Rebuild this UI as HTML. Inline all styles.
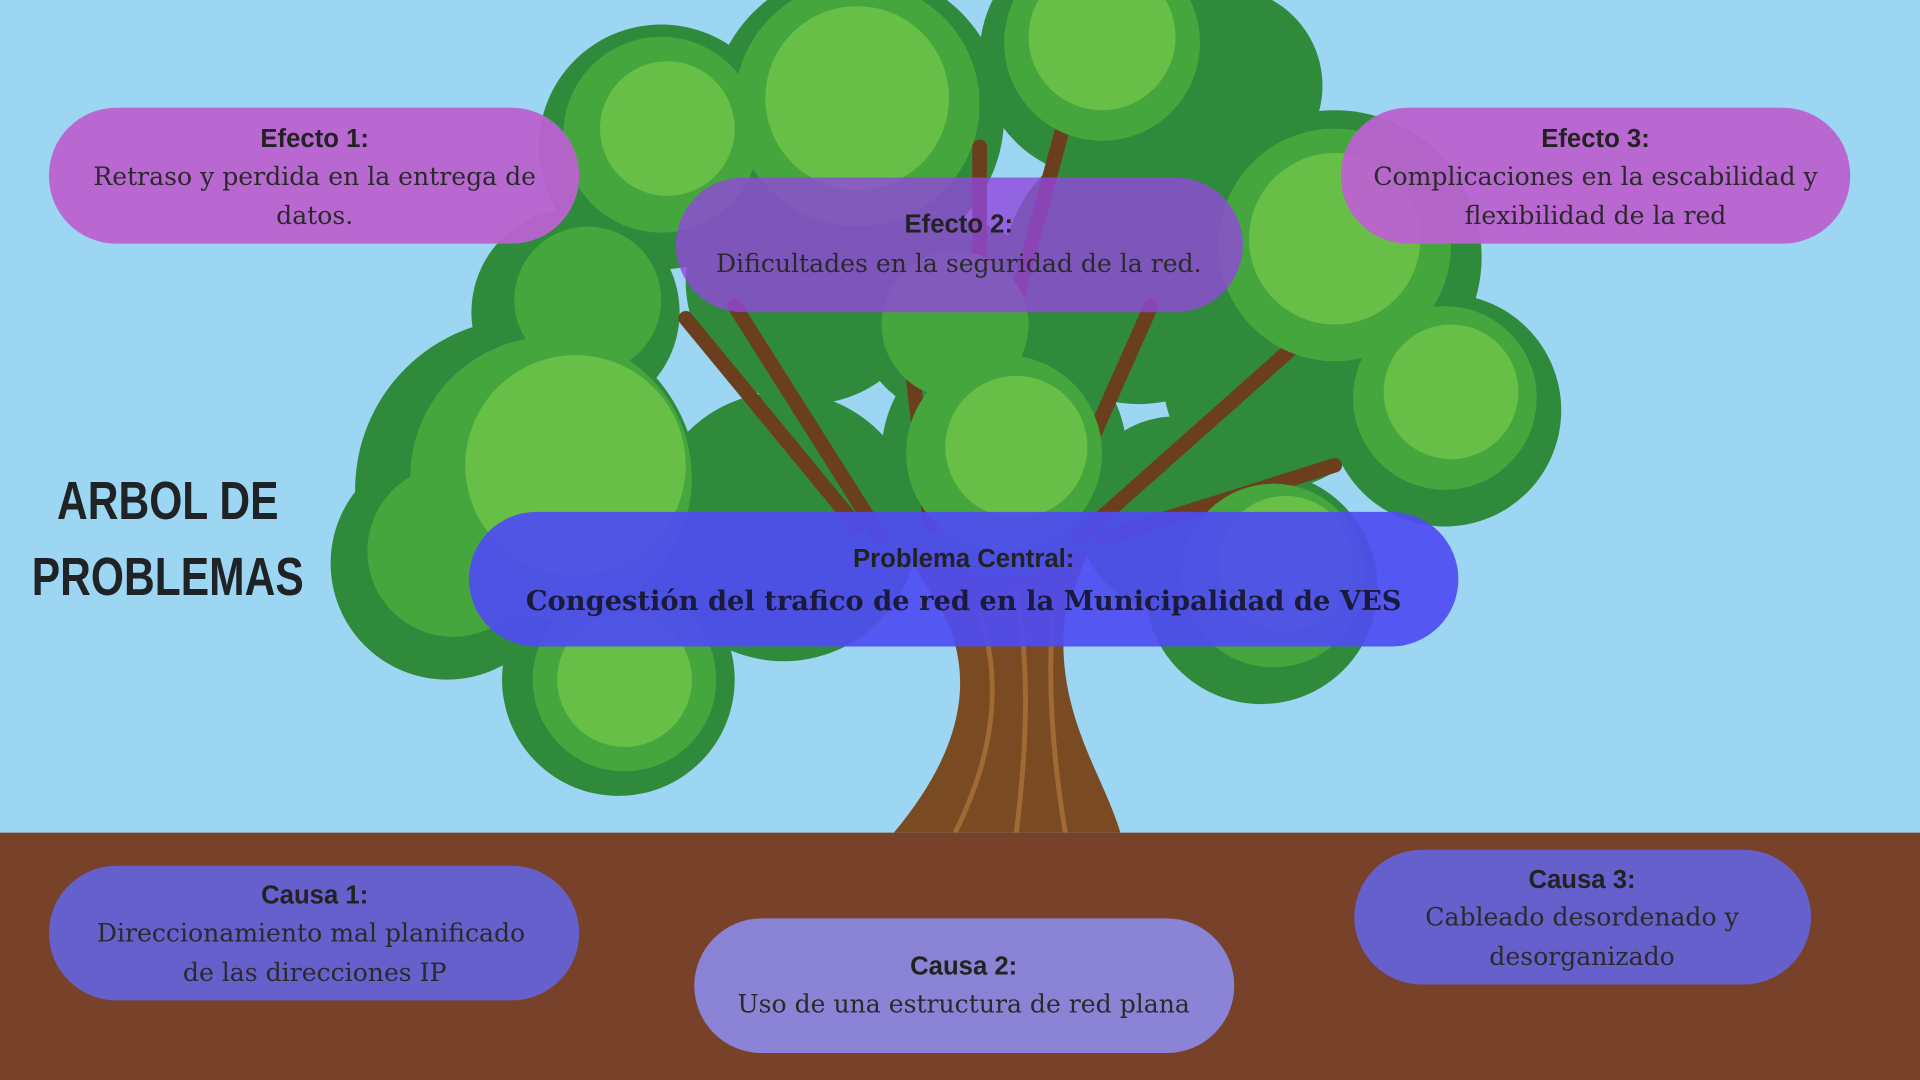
<!DOCTYPE html>
<html><head><meta charset="utf-8"><style>
html,body{margin:0;padding:0;width:1920px;height:1080px;overflow:hidden;background:#9dd6f2}
svg{display:block}
.h{font-family:"Liberation Sans","DejaVu Sans",sans-serif;font-weight:bold;font-size:21px;fill:#222}
.b{font-family:"DejaVu Serif","Liberation Serif",serif;font-size:20.5px;fill:#2a2a2a}
.t{font-family:"Liberation Sans",sans-serif;font-weight:bold;font-size:44px;fill:#1f2326}
</style></head><body>
<svg width="1920" height="1080" viewBox="0 0 1568 882" xmlns="http://www.w3.org/2000/svg">
<rect width="1568" height="882" fill="#9dd6f2"/>
<path d="M730 680 C780 620 800 560 770 500 L720 420 L900 420 L870 500 C860 580 900 630 915 680 Z" fill="#7a4a22"/>
<path d="M780 680 C810 620 820 560 800 500 M830 680 C840 600 840 540 830 480 M870 680 C860 620 855 560 860 500" stroke="#a06a35" stroke-width="4" fill="none"/>
<g fill="#2f8a3b">
<circle cx="900" cy="45" r="100"/><circle cx="700" cy="95" r="120"/><circle cx="540" cy="120" r="100"/><circle cx="1000" cy="70" r="80"/>
<circle cx="1090" cy="210" r="120"/><circle cx="1180" cy="335" r="95"/><circle cx="1040" cy="310" r="90"/>
<circle cx="470" cy="255" r="85"/><circle cx="430" cy="400" r="140"/><circle cx="365" cy="460" r="95"/><circle cx="505" cy="555" r="95"/>
<circle cx="820" cy="370" r="100"/><circle cx="780" cy="260" r="80"/><circle cx="1030" cy="480" r="95"/><circle cx="660" cy="230" r="100"/><circle cx="930" cy="220" r="110"/>
<circle cx="640" cy="430" r="110"/><circle cx="960" cy="420" r="80"/>
</g>
<g stroke="#6b3f1e" stroke-width="12" fill="none" stroke-linecap="round">
<path d="M720 440 L600 250"/><path d="M760 430 L740 260"/><path d="M780 430 L880 60"/><path d="M860 430 L940 250"/><path d="M880 440 L1060 280"/><path d="M900 440 L1090 380"/><path d="M700 430 L560 260"/><path d="M800 430 L800 120"/>
</g>
<g fill="#45a63e">
<circle cx="900" cy="35" r="80"/><circle cx="700" cy="85" r="100"/><circle cx="540" cy="110" r="80"/>
<circle cx="1090" cy="200" r="95"/><circle cx="1180" cy="325" r="75"/>
<circle cx="480" cy="245" r="60"/><circle cx="450" cy="390" r="115"/><circle cx="370" cy="450" r="70"/><circle cx="510" cy="555" r="75"/>
<circle cx="820" cy="370" r="80"/><circle cx="780" cy="265" r="60"/><circle cx="1040" cy="470" r="75"/>
</g>
<g fill="#68bf48">
<circle cx="900" cy="30" r="60"/><circle cx="700" cy="80" r="75"/><circle cx="545" cy="105" r="55"/>
<circle cx="1090" cy="195" r="70"/><circle cx="1185" cy="320" r="55"/>
<circle cx="470" cy="380" r="90"/><circle cx="510" cy="555" r="55"/><circle cx="830" cy="365" r="58"/><circle cx="1050" cy="460" r="55"/>
</g>
<rect x="0" y="680" width="1568" height="202" fill="#77412a"/>
<text class="t" x="137" y="424" text-anchor="middle" transform="translate(137 0) scale(0.79 1) translate(-137 0)">ARBOL DE</text>
<text class="t" x="137" y="486" text-anchor="middle" transform="translate(137 0) scale(0.79 1) translate(-137 0)">PROBLEMAS</text>
<rect x="40" y="88" width="433" height="111" rx="55" fill="#bb62d0" opacity="0.95"/>
<text class="h" x="257" y="120" text-anchor="middle">Efecto 1:</text>
<text class="b" x="257" y="151" text-anchor="middle">Retraso y perdida en la entrega de</text>
<text class="b" x="257" y="183" text-anchor="middle">datos.</text>
<rect x="552" y="145" width="463" height="110" rx="55" fill="#9147dc" opacity="0.8"/>
<text class="h" x="783" y="190" text-anchor="middle">Efecto 2:</text>
<text class="b" x="783" y="222" text-anchor="middle">Dificultades en la seguridad de la red.</text>
<rect x="1095" y="88" width="416" height="111" rx="55" fill="#bb62d0" opacity="0.95"/>
<text class="h" x="1303" y="120" text-anchor="middle">Efecto 3:</text>
<text class="b" x="1303" y="151" text-anchor="middle">Complicaciones en la escabilidad y</text>
<text class="b" x="1303" y="183" text-anchor="middle">flexibilidad de la red</text>
<rect x="383" y="418" width="808" height="110" rx="55" fill="#4f4cf2" opacity="0.92"/>
<text class="h" x="787" y="463" text-anchor="middle">Problema Central:</text>
<text class="b" x="787" y="498" text-anchor="middle" style="font-weight:bold;font-size:22.3px;fill:#1a1a3a">Congestión del trafico de red en la Municipalidad de VES</text>
<rect x="40" y="707" width="433" height="110" rx="55" fill="#6660cc"/>
<text class="h" x="257" y="738" text-anchor="middle">Causa 1:</text>
<text class="b" x="254" y="769" text-anchor="middle">Direccionamiento mal planificado</text>
<text class="b" x="257" y="801" text-anchor="middle">de las direcciones IP</text>
<rect x="567" y="750" width="441" height="110" rx="55" fill="#8b84d6"/>
<text class="h" x="787" y="796" text-anchor="middle">Causa 2:</text>
<text class="b" x="787" y="827" text-anchor="middle">Uso de una estructura de red plana</text>
<rect x="1106" y="694" width="373" height="110" rx="55" fill="#6660cc"/>
<text class="h" x="1292" y="725" text-anchor="middle">Causa 3:</text>
<text class="b" x="1292" y="756" text-anchor="middle">Cableado desordenado y</text>
<text class="b" x="1292" y="788" text-anchor="middle">desorganizado</text>
</svg>
</body></html>
